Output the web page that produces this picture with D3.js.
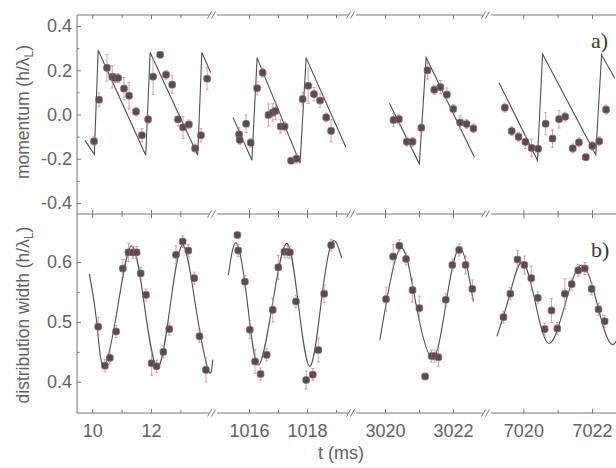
<!DOCTYPE html>
<html>
<head>
<meta charset="utf-8">
<script src="https://cdn.jsdelivr.net/npm/d3@7"></script>
<style>
body{margin:0;background:#fff}
text{font-family:"Liberation Sans",Arial,sans-serif}
</style>
</head>
<body>
<div class="chart"></div>
<script>

// momentum points  [t (ms), value, error]
const mom10 = [
    [10.06,-0.121,0.02],[10.23,0.067,0.03],[10.5,0.211,0.06],[10.68,0.17,0.05],
    [10.76,0.165,0.02],[10.88,0.165,0.02],[11.08,0.117,0.05],[11.25,0.085,0.06],
    [11.49,0.013,0.02],[11.69,-0.094,0.03],[11.9,-0.022,0.02],[12.07,0.171,0.08],
    [12.31,0.27,0.01],[12.51,0.18,0.02],[12.72,0.135,0.04],[12.92,-0.022,0.03],
    [13.09,-0.058,0.05],[13.29,-0.045,0.02],[13.5,-0.153,0.02],[13.7,-0.094,0.03],
    [13.91,0.162,0.05]
];
const mom1016 = [
    [1015.66,-0.09,0.03],[1015.68,-0.115,0.02],[1015.9,-0.042,0.04],[1016.06,-0.128,0.02],
    [1016.28,0.119,0.03],[1016.47,0.189,0.02],[1016.67,-0.002,0.05],[1016.82,0.009,0.04],
    [1016.91,0.016,0.04],[1017.09,-0.054,0.03],[1017.23,-0.054,0.02],[1017.45,-0.209,0.01],
    [1017.64,-0.2,0.02],[1017.85,0.07,0.03],[1018.04,0.13,0.08],[1018.24,0.092,0.03],
    [1018.45,0.063,0.03],[1018.66,-0.013,0.02],[1018.83,-0.074,0.05]
];
const mom3020 = [
    [3020.25,-0.025,0.03],[3020.41,-0.021,0.02],[3020.64,-0.123,0.02],[3020.81,-0.123,0.02],
    [3021.07,-0.06,0.02],[3021.25,0.2,0.04],[3021.45,0.112,0.02],[3021.63,0.124,0.03],
    [3021.82,0.09,0.03],[3022.01,0.025,0.02],[3022.21,-0.036,0.03],[3022.4,-0.043,0.02],
    [3022.6,-0.063,0.02]
];
const mom7020 = [
    [7019.46,0.031,0.02],[7019.66,-0.075,0.02],[7019.86,-0.101,0.02],[7020.06,-0.124,0.03],
    [7020.24,-0.151,0.04],[7020.43,-0.155,0.03],[7020.65,-0.042,0.05],[7020.85,-0.109,0.04],
    [7021.04,-0.021,0.04],[7021.22,-0.01,0.02],[7021.44,-0.153,0.02],[7021.62,-0.126,0.02],
    [7021.82,-0.193,0.01],[7022.01,-0.142,0.02],[7022.21,-0.121,0.02],[7022.41,0.022,0.02]
];

// sawtooth model lines
const saw10 = [[9.75,-0.117],[10.07,-0.181],[10.2,0.291],[11.82,-0.184],[11.97,0.28],[13.59,-0.184],[13.73,0.28],[14.03,0.19]];
const saw1016 = [[1015.45,-0.013],[1016.1,-0.207],[1016.28,0.256],[1017.76,-0.22],[1017.97,0.256],[1019.34,-0.148]];
const saw3020 = [[3020.13,0.051],[3021.01,-0.223],[3021.21,0.258],[3022.63,-0.193]];
const saw7020 = [[7019.29,0.144],[7020.41,-0.207],[7020.56,0.274],[7022.11,-0.182],[7022.28,0.27],[7022.66,0.165]];

// distribution width points [t, value, error]
const wid10 = [
    [10.2,0.492,0.015],[10.43,0.427,0.01],[10.6,0.44,0.01],[10.81,0.484,0.01],
    [11.04,0.589,0.015],[11.23,0.616,0.015],[11.38,0.616,0.01],[11.51,0.616,0.01],
    [11.65,0.581,0.01],[11.83,0.545,0.01],[12.02,0.431,0.02],[12.19,0.426,0.01],
    [12.42,0.45,0.01],[12.62,0.488,0.01],[12.85,0.612,0.015],[13.08,0.634,0.01],
    [13.27,0.619,0.01],[13.47,0.573,0.01],[13.65,0.476,0.01],[13.87,0.42,0.02]
];
const wid1016 = [
    [1015.6,0.645,0],[1015.63,0.619,0.01],[1015.86,0.567,0.01],[1016.03,0.487,0.015],
    [1016.21,0.434,0.02],[1016.4,0.413,0.01],[1016.61,0.445,0.01],[1016.82,0.52,0.02],
    [1017.01,0.591,0.02],[1017.22,0.617,0.01],[1017.32,0.617,0.01],[1017.41,0.616,0.01],
    [1017.62,0.534,0.01],[1017.97,0.403,0.015],[1018.2,0.412,0.01],[1018.39,0.453,0.02],
    [1018.59,0.547,0.015],[1018.83,0.628,0.01]
];
const wid3020 = [
    [3020.03,0.538,0.02],[3020.24,0.609,0.02],[3020.42,0.627,0.01],[3020.62,0.605,0.01],
    [3020.81,0.553,0.02],[3021.01,0.523,0.02],[3021.18,0.409,0],[3021.37,0.443,0.01],
    [3021.47,0.443,0.01],[3021.57,0.441,0.015],[3021.79,0.537,0.01],[3021.98,0.595,0.01],
    [3022.18,0.62,0.01],[3022.37,0.595,0.015],[3022.57,0.555,0.015]
];
const wid7020 = [
    [7019.42,0.508,0.01],[7019.62,0.547,0.01],[7019.83,0.604,0.015],[7020.03,0.595,0.015],
    [7020.23,0.573,0.02],[7020.42,0.54,0.01],[7020.62,0.488,0.01],[7020.82,0.519,0.02],
    [7020.99,0.489,0.01],[7021.21,0.547,0.025],[7021.41,0.563,0.01],[7021.6,0.586,0.01],
    [7021.79,0.589,0.01],[7021.99,0.555,0.01],[7022.19,0.521,0.01],[7022.37,0.501,0.01]
];

// fitted oscillation
const fit10 = [[9.9,0.58],[10.15,0.5],[10.4,0.426],[10.87,0.526],[11.34,0.627],[11.78,0.526],[12.22,0.424],[12.65,0.526],[13.08,0.628],[13.52,0.526],[13.95,0.42],[14.1,0.437]];
const fit1016 = [[1015.29,0.578],[1015.58,0.631],[1015.95,0.53],[1016.32,0.428],[1016.81,0.53],[1017.3,0.631],[1017.7,0.53],[1018.1,0.426],[1018.48,0.53],[1018.85,0.632],[1019.2,0.606]];
const fit3020 = [[3019.85,0.47],[3020.44,0.622],[3020.9,0.533],[3021.4,0.44],[3021.8,0.533],[3022.2,0.623],[3022.6,0.534]];
const fit7020 = [[7019.23,0.476],[7019.6,0.545],[7019.97,0.6],[7020.35,0.532],[7020.75,0.464],[7021.22,0.53],[7021.7,0.595],[7022.15,0.53],[7022.6,0.462],[7023.0,0.53]];

// axis ticks
const majorTicks = [[10,12],[1016,1018],[3020,3022],[7020,7022]];
const minorTicks = [[11,13],[1017,1019],[3021],[7021]];
const momTicks = [-0.4,-0.2,0.0,0.2,0.4];
const momMinor = [-0.3,-0.1,0.1,0.3];
const widTicks = [0.4,0.5,0.6];
const widMinor = [0.45,0.55];

function drawChart(){

    const width = 616;
    const height = 468;

    const left = 77;
    const top = 15;
    const mid = 214;
    const bottom = 413;

    const axisColor = "#777";
    const textColor = "#626262";

    const svg = d3.select(".chart")
        .append("svg")
        .attr("width", width)
        .attr("height", height);

    // broken x axis: one scale per piece
    const pieces = [
        {domain:[9.48,14.11], range:[77,213]},
        {domain:[1014.76,1019.55], range:[213,352]},
        {domain:[3019.03,3023], range:[352,487]},
        {domain:[7018.94,7023.4], range:[487,640]}
    ];

    const xs = pieces.map(p => d3.scaleLinear().domain(p.domain).range(p.range));

    const yMom = d3.scaleLinear().domain([-0.45,0.45]).range([mid, top]);
    const yWid = d3.scaleLinear().domain([0.348,0.68]).range([bottom, mid]);

    //Ejes horizontales con cortes
    [top, mid, bottom].forEach(yy => {

        pieces.forEach((p, i) => {
            svg.append("line")
                .attr("x1", p.range[0] + (i > 0 ? 4 : 0))
                .attr("x2", p.range[1] - (i < 3 ? 4 : 0))
                .attr("y1", yy)
                .attr("y2", yy)
                .attr("stroke", axisColor)
                .attr("stroke-width", 1);

            if(i < 3){
                const bx = p.range[1];
                [-4, 0].forEach(dx => {
                    svg.append("line")
                        .attr("x1", bx + dx - 1.5)
                        .attr("y1", yy + 3.5)
                        .attr("x2", bx + dx + 2.5)
                        .attr("y2", yy - 3.5)
                        .attr("stroke", axisColor)
                        .attr("stroke-width", 1);
                });
            }
        });
    });

    svg.append("line")
        .attr("x1", left).attr("x2", left)
        .attr("y1", top).attr("y2", bottom)
        .attr("stroke", axisColor);

    // ticks on every horizontal line
    xs.forEach((x, i) => {

        const rows = [
            {axis: d3.axisTop, y: top, labels: false},
            {axis: d3.axisTop, y: mid, labels: false},
            {axis: d3.axisBottom, y: mid, labels: false},
            {axis: d3.axisBottom, y: bottom, labels: true}
        ];

        rows.forEach(r => {
            const g = svg.append("g")
                .attr("transform", `translate(0,${r.y})`)
                .call(r.axis(x)
                    .tickValues(majorTicks[i])
                    .tickSize(-4)
                    .tickPadding(11)
                    .tickFormat(r.labels ? d3.format("d") : ""));

            g.append("g")
                .call(r.axis(x)
                    .tickValues(minorTicks[i])
                    .tickSize(-3)
                    .tickFormat(""));

            g.selectAll(".domain").remove();
            g.selectAll("line").attr("stroke", axisColor);
            g.selectAll("text")
                .attr("font-size", 18)
                .attr("fill", textColor)
                .style("font-family", "Liberation Sans, Arial, sans-serif");
        });
    });

    // y axes
    function yAxis(scale, major, minor){
        const g = svg.append("g")
            .attr("transform", `translate(${left},0)`)
            .call(d3.axisLeft(scale)
                .tickValues(major)
                .tickSize(-4)
                .tickPadding(5)
                .tickFormat(d => d.toFixed(1)));

        g.append("g")
            .call(d3.axisLeft(scale)
                .tickValues(minor)
                .tickSize(-2.5)
                .tickFormat(""));

        g.selectAll(".domain").remove();
        g.selectAll("line").attr("stroke", axisColor);
        g.selectAll("text")
            .attr("font-size", 18)
            .attr("fill", textColor)
            .style("font-family", "Liberation Sans, Arial, sans-serif");
    }

    yAxis(yMom, momTicks, momMinor);
    yAxis(yWid, widTicks, widMinor);

    //Dibujar lineas y puntos

    const panels = [
        {y: yMom, pts: [mom10, mom1016, mom3020, mom7020], lines: [saw10, saw1016, saw3020, saw7020], curve: d3.curveLinear},
        {y: yWid, pts: [wid10, wid1016, wid3020, wid7020], lines: [fit10, fit1016, fit3020, fit7020], curve: d3.curveNatural}
    ];

    panels.forEach(panel => {

        xs.forEach((x, i) => {

            const line = d3.line()
                .x(d => x(d[0]))
                .y(d => panel.y(d[1]))
                .curve(panel.curve);

            svg.append("path")
                .datum(panel.lines[i])
                .attr("d", line)
                .attr("fill", "none")
                .attr("stroke", "#505050")
                .attr("stroke-width", 1.1);

            const bars = svg.append("g")
                .attr("stroke", "#bd9193")
                .attr("stroke-width", 0.8);

            panel.pts[i].filter(d => d[2] > 0).forEach(d => {
                const cx = x(d[0]);
                const y1 = panel.y(d[1] - d[2]);
                const y2 = panel.y(d[1] + d[2]);
                bars.append("line").attr("x1", cx).attr("x2", cx).attr("y1", y1).attr("y2", y2);
                bars.append("line").attr("x1", cx - 1.5).attr("x2", cx + 1.5).attr("y1", y1).attr("y2", y1);
                bars.append("line").attr("x1", cx - 1.5).attr("x2", cx + 1.5).attr("y1", y2).attr("y2", y2);
            });

            svg.append("g")
                .selectAll("rect")
                .data(panel.pts[i])
                .enter()
                .append("rect")
                .attr("x", d => x(d[0]) - 3.3)
                .attr("y", d => panel.y(d[1]) - 3.3)
                .attr("width", 6.6)
                .attr("height", 6.6)
                .attr("rx", 2)
                .attr("fill", "#594b50")
                .attr("stroke", "#8e6165")
                .attr("stroke-width", 0.8);
        });
    });

    // labels
    const momLabel = svg.append("text")
        .attr("transform", "translate(29,112) rotate(-90)")
        .attr("text-anchor", "middle")
        .attr("font-size", 17.5)
        .attr("fill", textColor);
    momLabel.append("tspan").text("momentum (h/λ");
    momLabel.append("tspan").attr("dy", 4).attr("font-size", 12).text("L");
    momLabel.append("tspan").attr("dy", -4).text(")");

    const widLabel = svg.append("text")
        .attr("transform", "translate(29,315) rotate(-90)")
        .attr("text-anchor", "middle")
        .attr("font-size", 17.5)
        .attr("fill", textColor);
    widLabel.append("tspan").text("distribution width (h/λ");
    widLabel.append("tspan").attr("dy", 4).attr("font-size", 12).text("L");
    widLabel.append("tspan").attr("dy", -4).text(")");

    svg.append("text")
        .attr("x", 341)
        .attr("y", 459)
        .attr("text-anchor", "middle")
        .attr("font-size", 18)
        .attr("fill", textColor)
        .text("t (ms)");

    svg.append("text")
        .attr("x", 591)
        .attr("y", 48)
        .attr("font-size", 22)
        .attr("fill", "#3a3a3a")
        .style("font-family", "Liberation Serif, Times New Roman, serif")
        .text("a)");

    svg.append("text")
        .attr("x", 591)
        .attr("y", 257)
        .attr("font-size", 22)
        .attr("fill", "#3a3a3a")
        .style("font-family", "Liberation Serif, Times New Roman, serif")
        .text("b)");
}

drawChart();

</script>
</body>
</html>
